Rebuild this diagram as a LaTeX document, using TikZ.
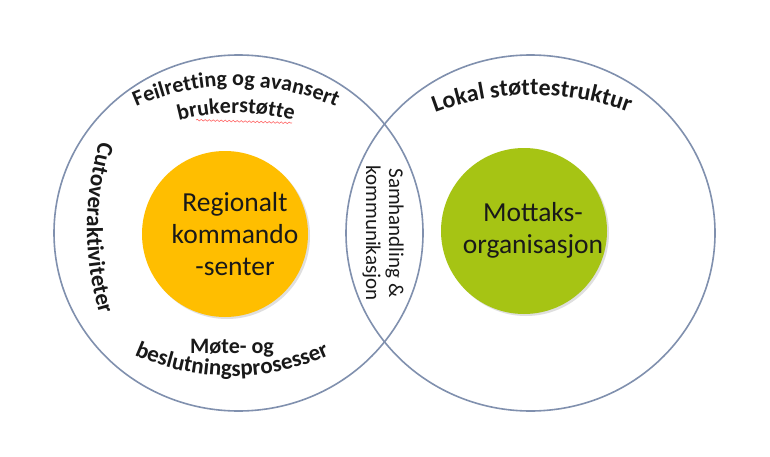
\documentclass[tikz,border=0pt]{standalone}
\usepackage{fontspec}
\setmainfont{Carlito}
\usetikzlibrary{decorations.text,decorations.pathmorphing,shadows,shapes.geometric}
\definecolor{ringc}{RGB}{128,144,174}
\definecolor{orangec}{RGB}{255,190,0}
\definecolor{greenc}{RGB}{166,196,20}
\definecolor{txt}{RGB}{25,25,25}
\begin{document}
\begin{tikzpicture}[x=1pt,y=1pt,
  ring/.style={draw=ringc, line width=1.6pt, ellipse, inner sep=0pt, minimum width=369pt, minimum height=356pt},
  blob/.style={circle, inner sep=0pt, drop shadow={opacity=0.25, shadow xshift=2pt, shadow yshift=-2pt}},
  inner/.style={align=center, text=txt, font=\fontsize{27.5}{32}\selectfont},
  lbl/.style={text=txt, font=\bfseries\fontsize{22}{26}\selectfont},
  curved/.style={decorate, decoration={text along path, text align=center, text color=txt, text={#1}}}
]
\useasboundingbox (0,0) rectangle (770,456);
\fill[white] (0,0) rectangle (770,456);
% outer rings
\node[ring] (L) at (238.5,223) {};
\node[ring] (R) at (530.5,223) {};
% inner discs
\node[blob, fill=orangec, minimum size=166pt] (oc) at (225,222) {};
\node[blob, fill=greenc, minimum size=166pt] (gc) at (524,225) {};
\node[inner] (rk) at (235,222) {Regionalt\\kommando\\-senter};
\node[inner] (mo) at (533,226) {Mottaks-\\organisasjon};
% lens text
\node[rotate=-90, align=center, text=txt, font=\fontsize{21}{23}\selectfont] (sam) at (383,223) {Samhandling \&\\kommunikasjon};
% curved labels
\coordinate (cf) at (236,120);
\path[curved={|\bfseries\fontsize{22}{26}\selectfont|Feilretting og avansert}]
  ([shift={(113:250)}]cf) arc[start angle=113, end angle=67, radius=250];
\path[curved={|\bfseries\fontsize{22}{26}\selectfont|brukerstøtte}]
  ([shift={(104:223)}]cf) arc[start angle=104, end angle=76, radius=223];
\coordinate (sq1) at (196,336);
\coordinate (sq2) at (292,333);
\draw[red!60, line width=0.6pt, decorate, decoration={snake, amplitude=0.8pt, segment length=4pt}] (sq1) -- (sq2);
\coordinate (cc) at (391,228);
\path[curved={|\bfseries\fontsize{23}{27}\selectfont|Cutoveraktiviteter}]
  ([shift={(162:304)}]cc) arc[start angle=162, end angle=198, radius=304];
\node[lbl, anchor=base] (mote) at (232,103) {Møte- og};
\coordinate (cb) at (232,318);
\path[curved={|\bfseries\fontsize{23}{27}\selectfont|beslutningsprosesser}]
  ([shift={(244:238)}]cb) arc[start angle=244, end angle=296, radius=238];
\coordinate (cl) at (532,86);
\path[curved={|\bfseries\fontsize{24}{28}\selectfont|Lokal støttestruktur}]
  ([shift={(111:275)}]cl) arc[start angle=111, end angle=69, radius=275];
\end{tikzpicture}
\end{document}
